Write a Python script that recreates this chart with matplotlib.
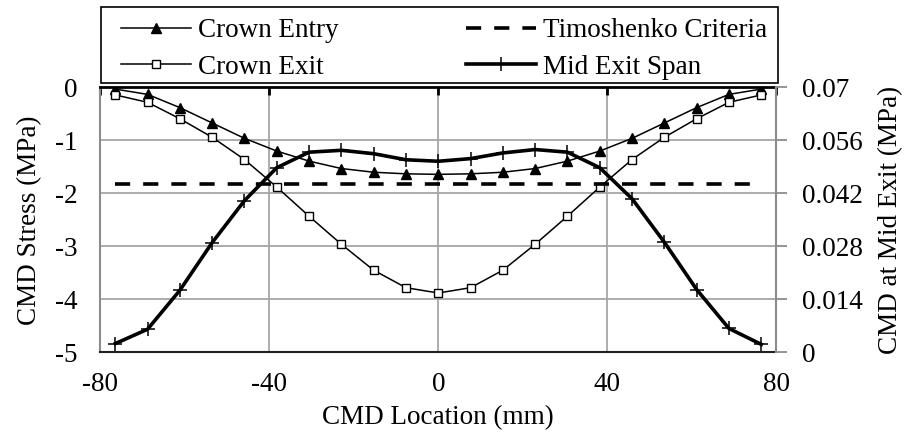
import matplotlib
matplotlib.use("Agg")
import matplotlib.pyplot as plt
from matplotlib.lines import Line2D
from matplotlib.patches import Rectangle

# CMD positions along the specimen (mm)
cmd_location = [-76.5, -68.85, -61.2, -53.55, -45.9, -38.25, -30.6, -22.95, -15.3, -7.65, 0.0,
                7.65, 15.3, 22.95, 30.6, 38.25, 45.9, 53.55, 61.2, 68.85, 76.5]

# Stresses on the primary axis (MPa)
crown_entry = [-0.03, -0.13, -0.38, -0.67, -0.96, -1.20, -1.39, -1.53, -1.60, -1.63, -1.64,
               -1.63, -1.60, -1.53, -1.39, -1.20, -0.96, -0.67, -0.38, -0.13, -0.03]
crown_exit = [-0.14, -0.28, -0.59, -0.94, -1.36, -1.88, -2.43, -2.96, -3.45, -3.78, -3.88,
              -3.78, -3.45, -2.96, -2.43, -1.88, -1.36, -0.94, -0.59, -0.28, -0.14]

# Timoshenko criteria (constant)
timoshenko_x = [-76.5, 76.5]
timoshenko_y = [-1.82, -1.82]

# Mid exit span on the secondary axis (MPa)
mid_exit_span = [0.0023, 0.0061, 0.0164, 0.0290, 0.0401, 0.0488, 0.0529, 0.0534, 0.0525, 0.0509, 0.0505,
                 0.0512, 0.0527, 0.0536, 0.0529, 0.0488, 0.0406, 0.0291, 0.0166, 0.0063, 0.0021]

x_ticks = [-80, -40, 0, 40, 80]
left_ticks = [0, -1, -2, -3, -4, -5]
right_ticks = [0, 0.014, 0.028, 0.042, 0.056, 0.07]
right_tick_labels = ["0", "0.014", "0.028", "0.042", "0.056", "0.07"]


def main():
    plt.rcParams['font.family'] = ['Liberation Serif', 'DejaVu Serif']
    plt.rcParams['font.size'] = 19.5
    plt.rcParams['axes.unicode_minus'] = False

    W, H = 907, 441
    fig = plt.figure(figsize=(W / 100, H / 100), dpi=100)
    ax = fig.add_axes([0.1108, 0.2011, 0.7448, 0.6005])
    ax2 = ax.twinx()

    grid_col = '#a6a6a6'

    # Primary axis series
    ax.plot(cmd_location, crown_entry, color='black', lw=1.1, marker='^', ms=7,
            mfc='black', mec='black', label='Crown Entry', zorder=3)
    ax.plot(cmd_location, crown_exit, color='black', lw=1.1, marker='s', ms=6,
            mfc='white', mec='black', mew=1.0, label='Crown Exit', zorder=3)
    ax.plot(timoshenko_x, timoshenko_y, color='black', lw=2.6, dashes=(4.2, 3.6),
            label='Timoshenko Criteria', zorder=3)

    # Secondary axis series
    ax2.plot(cmd_location, mid_exit_span, color='black', lw=2.6, marker='+', ms=10,
             mew=1.1, label='Mid Exit Span', zorder=3)

    ax.set_xlim(-80, 80)
    ax.set_ylim(-5, 0)
    ax2.set_ylim(0, 0.07)

    ax.set_xticks(x_ticks)
    ax.set_yticks(left_ticks)
    ax.set_yticklabels([str(t) for t in left_ticks])
    ax2.set_yticks(right_ticks)
    ax2.set_yticklabels(right_tick_labels)

    ax.grid(True, color=grid_col, lw=1.3)
    ax.set_axisbelow(True)

    # Axis line sits at y = 0 (top) with ticks pointing down into the plot
    ax.tick_params(axis='x', bottom=False, top=True, labelbottom=True, labeltop=False,
                   direction='in', length=6, width=2, color='black', pad=14)
    ax.tick_params(axis='y', left=False, pad=13)
    ax2.tick_params(axis='y', right=True, direction='out', length=8, width=1.3,
                    color='#8c8c8c', pad=11)

    for name, sp in ax.spines.items():
        sp.set_linewidth(1.5)
    ax.spines['top'].set_color('black')
    ax.spines['top'].set_linewidth(2.0)
    ax.spines['bottom'].set_color('#202020')
    ax.spines['left'].set_color('#8c8c8c')
    ax.spines['right'].set_visible(False)
    for name in ['top', 'bottom', 'left']:
        ax2.spines[name].set_visible(False)
    ax2.spines['right'].set_color('#8c8c8c')
    ax2.spines['right'].set_linewidth(1.5)

    ax.set_xlabel('CMD Location (mm)', labelpad=6)
    ax.set_ylabel('CMD Stress (MPa)', labelpad=9)
    ax2.set_ylabel('CMD at Mid Exit (MPa)', labelpad=11)

    # Legend box across the top
    fig.patches.append(Rectangle((100.5 / W, 1 - 83.3 / H), 677 / W, 76 / H,
                                 transform=fig.transFigure, facecolor='white',
                                 edgecolor='black', lw=1.2, zorder=5))
    handles = [
        Line2D([], [], color='black', lw=1.1, marker='^', ms=7, mfc='black'),
        Line2D([], [], color='black', lw=1.1, marker='s', ms=6, mfc='white', mew=1.0),
        Line2D([], [], color='black', lw=2.6, dashes=(4.2, 3.6)),
        Line2D([], [], color='black', lw=2.6, marker='+', ms=10, mew=1.1),
    ]
    labels = ['Crown Entry', 'Crown Exit', 'Timoshenko Criteria', 'Mid Exit Span']
    leg = fig.legend(handles, labels, ncol=2, mode='expand', loc='center',
                     bbox_to_anchor=(121 / W, 1 - 87 / H, 646 / W, 76 / H),
                     frameon=False, borderpad=0, borderaxespad=0,
                     handlelength=2.6, handletextpad=0.25,
                     labelspacing=0.42, columnspacing=1.0)
    leg.set_zorder(6)

    fig.savefig('out.png', dpi=100)


if __name__ == '__main__':
    main()
